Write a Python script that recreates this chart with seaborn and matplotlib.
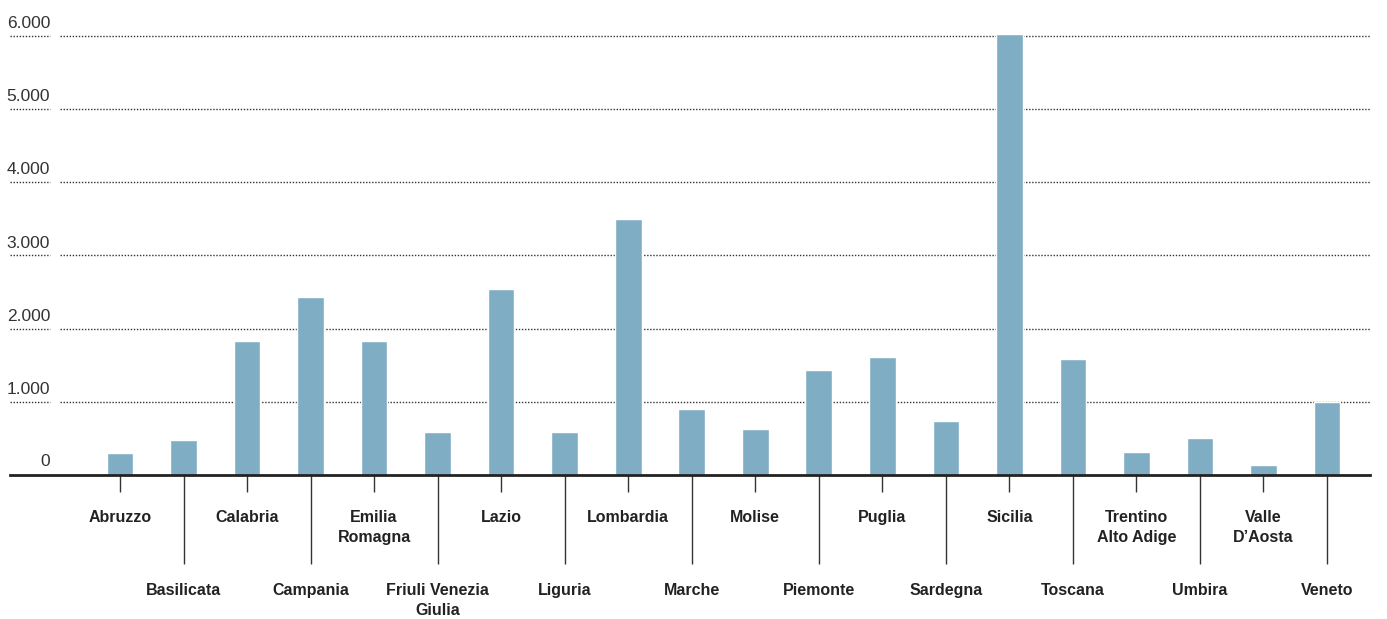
import matplotlib
matplotlib.use("Agg")
import matplotlib.pyplot as plt
import seaborn as sns
import pandas as pd
import numpy as np

regions = ["Abruzzo", "Basilicata", "Calabria", "Campania", "Emilia\nRomagna",
           "Friuli Venezia\nGiulia", "Lazio", "Liguria", "Lombardia", "Marche",
           "Molise", "Piemonte", "Puglia", "Sardegna", "Sicilia", "Toscana",
           "Trentino\nAlto Adige", "Umbira", "Valle\nD\u2019Aosta", "Veneto"]
values = [300, 478, 1830, 2430, 1830, 587, 2540, 587, 3500, 900,
          628, 1434, 1616, 738, 6030, 1585, 314, 505, 137, 1000]
y_ticks = [0, 1000, 2000, 3000, 4000, 5000, 6000]
y_labels = ["0", "1.000", "2.000", "3.000", "4.000", "5.000", "6.000"]

sns.set_theme(style="white")
FONT = ["Liberation Sans", "DejaVu Sans"]
plt.rcParams["font.family"] = FONT

W, H = 1387, 619
fig = plt.figure(figsize=(W / 100, H / 100), dpi=100)
left_px, right_px = 10, 1370
base_px, top_px = 475, 14
ax = fig.add_axes([left_px / W, 1 - base_px / H, (right_px - left_px) / W, (base_px - top_px) / H])

df = pd.DataFrame({"region": regions, "value": values})
sns.barplot(data=df, x="region", y="value", color="#7fadc4", saturation=1,
            width=0.42, ax=ax, zorder=3)

sp = 63.53
ax.set_xlim(-(120 - left_px) / sp, 19 + (right_px - 1327) / sp)
ax.set_ylim(0, 6000 * (base_px - top_px) / (base_px - 36))

for s in ["top", "right", "left"]:
    ax.spines[s].set_visible(False)
ax.spines["bottom"].set_color("#222222")
ax.spines["bottom"].set_linewidth(2)
ax.spines["bottom"].set_zorder(4)

ax.set_yticks([])
ax.set_xlabel("")
ax.set_ylabel("")

span = right_px - left_px
for t, lab in zip(y_ticks, y_labels):
    if t > 0:
        ax.axhline(t, xmin=(60 - left_px) / span, xmax=1, color="#333333",
                   lw=1, ls=(0, (1, 1.2)), zorder=1)
        ax.axhline(t, xmin=0, xmax=40 / span, color="#333333",
                   lw=1, ls=(0, (1, 1.2)), zorder=1)
    ax.annotate(lab, xy=(40 / span, t), xycoords=("axes fraction", "data"),
                xytext=(0, 5 if t > 0 else 6), textcoords="offset pixels",
                ha="right", va="bottom", fontsize=12.5, color="#333333",
                family=FONT)

pos = np.arange(len(regions))
ax.set_xticks(pos[::2])
ax.set_xticklabels(regions[::2])
ax.set_xticks(pos[1::2], minor=True)
ax.set_xticklabels(regions[1::2], minor=True)
ax.tick_params(axis="x", which="major", length=12.5, width=1, color="#333333",
               pad=12.5, labelsize=11.5, labelcolor="#222222", bottom=True)
ax.tick_params(axis="x", which="minor", length=64, width=1, color="#333333",
               pad=13.5, labelsize=11.5, labelcolor="#222222", bottom=True)
for lab in ax.get_xticklabels(which="both"):
    lab.set_fontweight("bold")
    lab.set_linespacing(1.45)
    lab.set_multialignment("center")

fig.savefig("out.png", dpi=100)
